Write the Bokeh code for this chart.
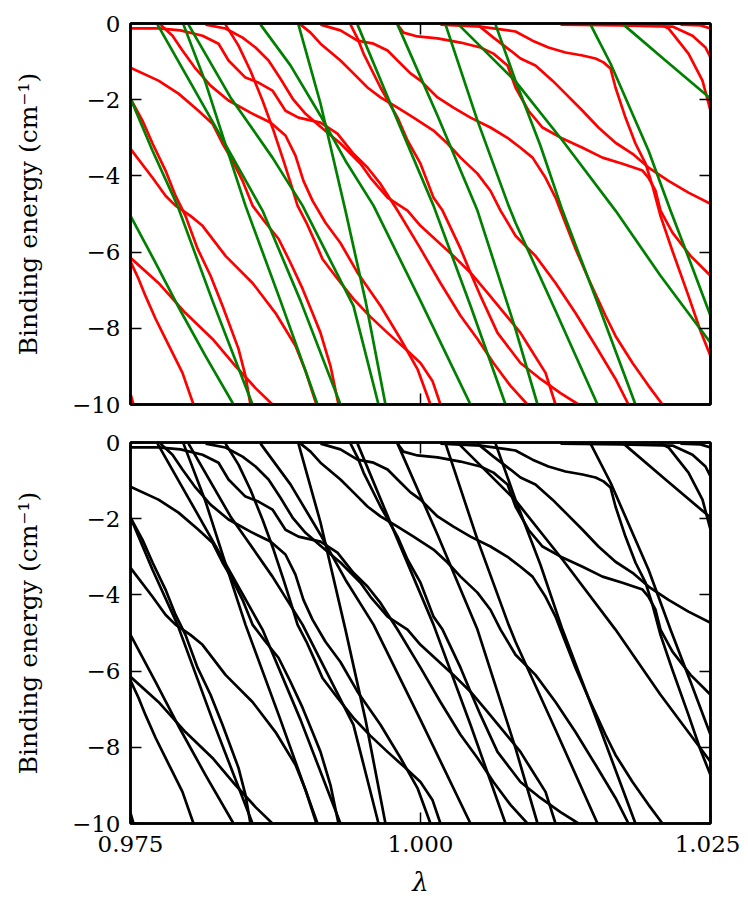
from bokeh.plotting import figure
from bokeh.layouts import column
from bokeh.models import LinearAxis, FixedTicker, Range1d
from bokeh.embed import file_html
from bokeh.resources import INLINE

# ---- data: lambda and binding energy (cm^-1) ----
GREEN_LAM = [
    [0.97500, 0.97716, 0.97931, 0.98147, 0.98388],
    [0.97500, 0.97690, 0.97905, 0.98207, 0.98552],
    [0.97733, 0.98017, 0.98319, 0.98638, 0.98966, 0.99310],
    [0.97957, 0.98147, 0.98319, 0.98491, 0.98793, 0.99112],
    [0.98000, 0.98362, 0.98724, 0.98983, 0.99181, 0.99422, 0.99638],
    [0.98621, 0.98879, 0.99138, 0.99353, 0.99595, 1.00000, 1.00431],
    [0.98948, 0.99138, 0.99353, 0.99526, 0.99698],
    [0.99457, 0.99784, 1.00112, 1.00431, 1.00733],
    [0.99802, 1.00147, 1.00491, 1.00819, 1.01009],
    [1.00216, 1.00491, 1.00759, 1.00819, 1.01164, 1.01526],
    [1.00328, 1.00819, 1.01224, 1.01681, 1.02069, 1.02500],
    [1.00647, 1.00819, 1.01034, 1.01224, 1.01552, 1.01853],
    [1.01466, 1.01638, 1.01966, 1.02155, 1.02328, 1.02500],
    [1.01750, 1.02112, 1.02500],
]
GREEN_E = [
    [-5.05, -6.28, -7.54, -8.73, -10.0],
    [-1.97, -3.34, -4.78, -7.28, -10.0],
    [-0.03, -1.55, -3.18, -4.91, -7.28, -10.0],
    [-0.03, -1.55, -3.18, -4.78, -7.28, -10.0],
    [-0.03, -1.94, -3.52, -4.78, -5.97, -7.41, -10.0],
    [-0.03, -1.10, -2.42, -3.60, -4.78, -7.28, -10.0],
    [-0.03, -2.10, -4.91, -7.28, -10.0],
    [-0.03, -2.42, -4.78, -7.41, -10.0],
    [-0.03, -2.42, -4.91, -8.02, -10.0],
    [-0.03, -2.55, -4.78, -5.23, -7.54, -10.0],
    [-0.03, -1.52, -3.07, -4.91, -6.62, -8.38],
    [-0.03, -1.50, -3.21, -4.91, -7.54, -10.0],
    [-0.03, -1.05, -3.34, -4.91, -6.28, -7.67],
    [-0.03, -0.97, -1.97],
]

RED_LAM = [
    [0.97500, 0.97741, 0.97931, 0.98121, 0.98259, 0.98345, 0.98491, 0.98603, 0.98724, 0.98836, 0.98948,
     0.99138, 0.99284, 0.99422, 0.99543, 0.99655, 0.99802, 1.00000, 1.00172, 1.00345, 1.00491, 1.00629,
     1.00776, 1.00922],
    [0.97500, 0.97741, 0.97914, 0.98086, 0.98207, 0.98293, 0.98379, 0.98466, 0.98552, 0.98664, 0.98776,
     0.98879, 0.98983, 0.99069, 0.99138, 0.99224, 0.99293],
    [0.97500, 0.97603, 0.97690, 0.97802, 0.97888, 0.97974, 0.98078, 0.98190, 0.98293, 0.98431, 0.98491,
     0.98534],
    [0.97500, 0.97690, 0.97802, 0.97888, 0.98017, 0.98121, 0.98319, 0.98552, 0.98750, 0.98922, 0.99009,
     0.99103],
    [0.97500, 0.97741, 0.97974, 0.98207, 0.98405, 0.98578, 0.98724],
    [0.97500, 0.97569, 0.97629, 0.97716, 0.97802, 0.97888, 0.97948, 0.98043],
    [0.97500, 0.97526],
    [0.97759, 0.97862, 0.97948, 0.98060, 0.98190, 0.98345, 0.98534, 0.98707, 0.98836, 0.98922, 0.98991,
     0.99069, 0.99181, 0.99310, 0.99457, 0.99655, 0.99828, 0.99974, 1.00086],
    [0.98147, 0.98319, 0.98466, 0.98578, 0.98690, 0.98793, 0.98897, 0.99009, 0.99138, 0.99310, 0.99483,
     0.99569, 0.99716, 0.99888, 1.00000, 1.00284, 1.00431, 1.00578, 1.00862, 1.00931, 1.01078, 1.01164],
    [0.98319, 0.98431, 0.98534, 0.98638, 0.98733, 0.98819, 0.98888, 0.98940, 0.99017, 0.99086,
     0.99155, 0.99284, 0.99422, 0.99569, 0.99716, 0.99862, 1.00000, 1.00103, 1.00172],
    [0.98966, 0.99052, 0.99138, 0.99310, 0.99422, 0.99543, 0.99655, 0.99802, 0.99940, 1.00112, 1.00233,
     1.00345, 1.00491, 1.00603, 1.00690, 1.00819, 1.00991, 1.01164, 1.01336, 1.01509, 1.01681, 1.01793],
    [0.99138, 0.99310, 0.99457, 0.99595, 0.99716, 0.99828, 0.99914, 1.00000, 1.00060, 1.00147, 1.00284,
     1.00431, 1.00603, 1.00750, 1.00862, 1.00966, 1.01078, 1.01164, 1.01207, 1.01336, 1.01448, 1.01595,
     1.01681, 1.01828, 1.01966, 1.02086],
    [0.99397, 0.99457, 0.99509, 0.99655, 0.99802, 0.99888, 1.00000, 1.00112, 1.00190, 1.00345, 1.00431,
     1.00517, 1.00664, 1.00862, 1.01034, 1.01207, 1.01362],
    [0.99802, 0.99853, 0.99974, 1.00147, 1.00345, 1.00517, 1.00629, 1.00750, 1.00819, 1.00931, 1.01052,
     1.01224, 1.01397, 1.01569, 1.01741, 1.01914, 1.01966, 1.02026, 1.02069, 1.02172, 1.02328, 1.02500],
    [1.00491, 1.00629, 1.00776, 1.00862, 1.00991, 1.01138, 1.01250, 1.01397, 1.01534, 1.01681, 1.01828,
     1.01966, 1.02138, 1.02310, 1.02500],
    [1.00172, 1.00517, 1.00819, 1.00966, 1.01103, 1.01250, 1.01397, 1.01509, 1.01578, 1.01638, 1.01681,
     1.01767, 1.01853, 1.01940, 1.02000, 1.02069, 1.02172, 1.02310, 1.02414, 1.02500],
    [1.01207, 1.01724, 1.02172, 1.02345, 1.02457, 1.02500],
    [1.02069, 1.02138, 1.02310, 1.02431, 1.02500],
    [1.02241, 1.02414, 1.02500],
]
RED_E = [
    [-0.13, -0.13, -0.18, -0.32, -0.53, -0.97, -1.42, -1.55, -1.76, -2.29, -2.47,
     -2.60, -2.89, -3.42, -3.78, -4.21, -4.91, -5.91, -6.81, -7.67, -8.28, -8.91,
     -9.51, -10.0],
    [-1.16, -1.50, -1.84, -2.29, -2.63, -3.15, -3.60, -4.13, -4.78, -5.23, -5.65,
     -6.28, -6.96, -7.60, -8.12, -8.99, -10.0],
    [-1.97, -2.55, -3.15, -3.86, -4.52, -5.05, -5.91, -6.62, -7.41, -8.54, -9.25,
     -10.0],
    [-3.29, -4.05, -4.52, -4.78, -5.05, -5.31, -6.10, -6.81, -7.60, -8.46, -9.12,
     -10.0],
    [-6.15, -6.81, -7.60, -8.28, -8.99, -9.57, -10.0],
    [-6.25, -6.70, -7.15, -7.75, -8.28, -8.80, -9.17, -10.0],
    [-9.72, -10.0],
    [-0.03, -0.32, -0.71, -1.18, -1.63, -2.02, -2.34, -2.60, -2.94, -3.47, -4.13,
     -4.65, -5.23, -5.76, -6.54, -7.41, -8.28, -9.07, -10.0],
    [-0.03, -0.13, -0.37, -0.63, -0.97, -1.45, -1.97, -2.37, -2.71, -3.15, -3.68,
     -4.05, -4.57, -4.91, -5.31, -6.10, -6.54, -7.07, -8.12, -8.46, -9.17, -10.0],
    [-0.03, -0.58, -1.24, -2.02, -2.81, -3.60, -4.26, -4.78, -5.23, -5.70,
     -6.18, -6.70, -7.23, -7.70, -8.12, -8.52, -8.91, -9.38, -10.0],
    [-0.03, -0.24, -0.53, -0.97, -1.31, -1.68, -1.94, -2.21, -2.47, -2.81, -3.15,
     -3.52, -3.94, -4.39, -4.91, -5.57, -6.10, -6.81, -7.60, -8.46, -9.33, -10.0],
    [-0.03, -0.18, -0.45, -0.53, -0.71, -1.05, -1.31, -1.50, -1.68, -1.94, -2.21,
     -2.47, -2.73, -3.00, -3.26, -3.52, -4.05, -4.57, -4.91, -5.91, -6.70, -7.67,
     -8.20, -8.91, -9.51, -10.0],
    [-0.03, -0.39, -0.79, -1.68, -2.47, -3.07, -3.68, -4.57, -4.91, -5.91, -6.54,
     -7.15, -8.12, -8.91, -9.33, -9.70, -10.0],
    [-0.03, -0.24, -0.34, -0.39, -0.50, -0.63, -0.79, -1.10, -1.68, -2.29, -2.73,
     -3.02, -3.26, -3.52, -3.68, -3.86, -4.05, -4.39, -4.91, -5.49, -6.10, -6.62],
    [-0.03, -0.37, -0.71, -0.92, -1.10, -1.50, -1.84, -2.29, -2.73, -3.13, -3.42,
     -3.78, -4.13, -4.44, -4.73],
    [-0.03, -0.08, -0.21, -0.45, -0.63, -0.76, -0.84, -0.92, -1.02, -1.18, -1.68,
     -2.47, -3.15, -3.68, -4.26, -5.05, -5.97, -7.15, -8.07, -8.73],
    [-0.03, -0.05, -0.08, -0.32, -0.63, -0.89],
    [-0.03, -0.13, -0.79, -1.50, -2.29],
    [-0.03, -0.05, -0.13],
]

X_TICKS = [0.975, 1.000, 1.025]
X_LABELS = ["0.975", "1.000", "1.025"]
Y_TICKS = [0, -2, -4, -6, -8, -10]
Y_LABELS = ["0", "\u22122", "\u22124", "\u22126", "\u22128", "\u221210"]

FONT = "DejaVu Serif"


def style_axis(ax, show_labels):
    ax.axis_line_color = "black"
    ax.axis_line_width = 2.5
    ax.major_tick_in = 11
    ax.major_tick_out = 0
    ax.major_tick_line_width = 1.5
    ax.minor_tick_in = 0
    ax.minor_tick_out = 0
    ax.major_label_text_font = FONT
    ax.major_label_text_font_size = "23px"
    ax.major_label_text_color = "black"
    ax.major_label_standoff = 10
    ax.axis_label_text_font = FONT
    ax.axis_label_text_font_style = "normal"
    ax.axis_label_text_color = "black"
    if not show_labels:
        ax.major_label_text_color = None
        ax.major_label_standoff = 0


def make_panel(colored, bottom):
    h = 478 if bottom else 423
    p = figure(width=740, height=h, output_backend="svg", toolbar_location=None,
               x_range=Range1d(0.975, 1.025), y_range=Range1d(-10, 0),
               min_border_left=130, min_border_right=30,
               min_border_top=19 if bottom else 23,
               min_border_bottom=78 if bottom else 19)
    p.grid.visible = False
    p.outline_line_color = "black"
    p.outline_line_width = 2.5
    p.background_fill_color = "white"
    p.border_fill_color = "white"

    p.xaxis.ticker = FixedTicker(ticks=X_TICKS)
    p.yaxis.ticker = FixedTicker(ticks=Y_TICKS)
    p.xaxis.major_label_overrides = dict(zip(X_TICKS, X_LABELS))
    p.yaxis.major_label_overrides = dict(zip(Y_TICKS, Y_LABELS))
    style_axis(p.xaxis[0], bottom)
    style_axis(p.yaxis[0], True)
    p.yaxis.axis_label = "Binding energy (cm\u207b\u00b9)"
    p.yaxis.axis_label_text_font_size = "25px"
    p.yaxis.axis_label_standoff = 26
    if bottom:
        p.xaxis.axis_label = "\u03bb"
        p.xaxis.axis_label_text_font_size = "26px"
        p.xaxis.axis_label_text_font_style = "italic"
        p.xaxis.major_label_standoff = 12
        p.xaxis.axis_label_standoff = 12

    top = LinearAxis(ticker=FixedTicker(ticks=X_TICKS))
    style_axis(top, False)
    p.add_layout(top, "above")
    right = LinearAxis(ticker=FixedTicker(ticks=Y_TICKS))
    style_axis(right, False)
    p.add_layout(right, "right")

    for lam, e in zip(RED_LAM, RED_E):
        p.line(lam, e, line_color="#ff0000" if colored else "black", line_width=2.7,
               line_join="round")
    for lam, e in zip(GREEN_LAM, GREEN_E):
        p.line(lam, e, line_color="#008000" if colored else "black", line_width=2.7,
               line_join="round")
    return p


p1 = make_panel(True, False)
p2 = make_panel(False, True)
p = column(p1, p2)
open("out.html", "w").write(file_html(p, INLINE))
